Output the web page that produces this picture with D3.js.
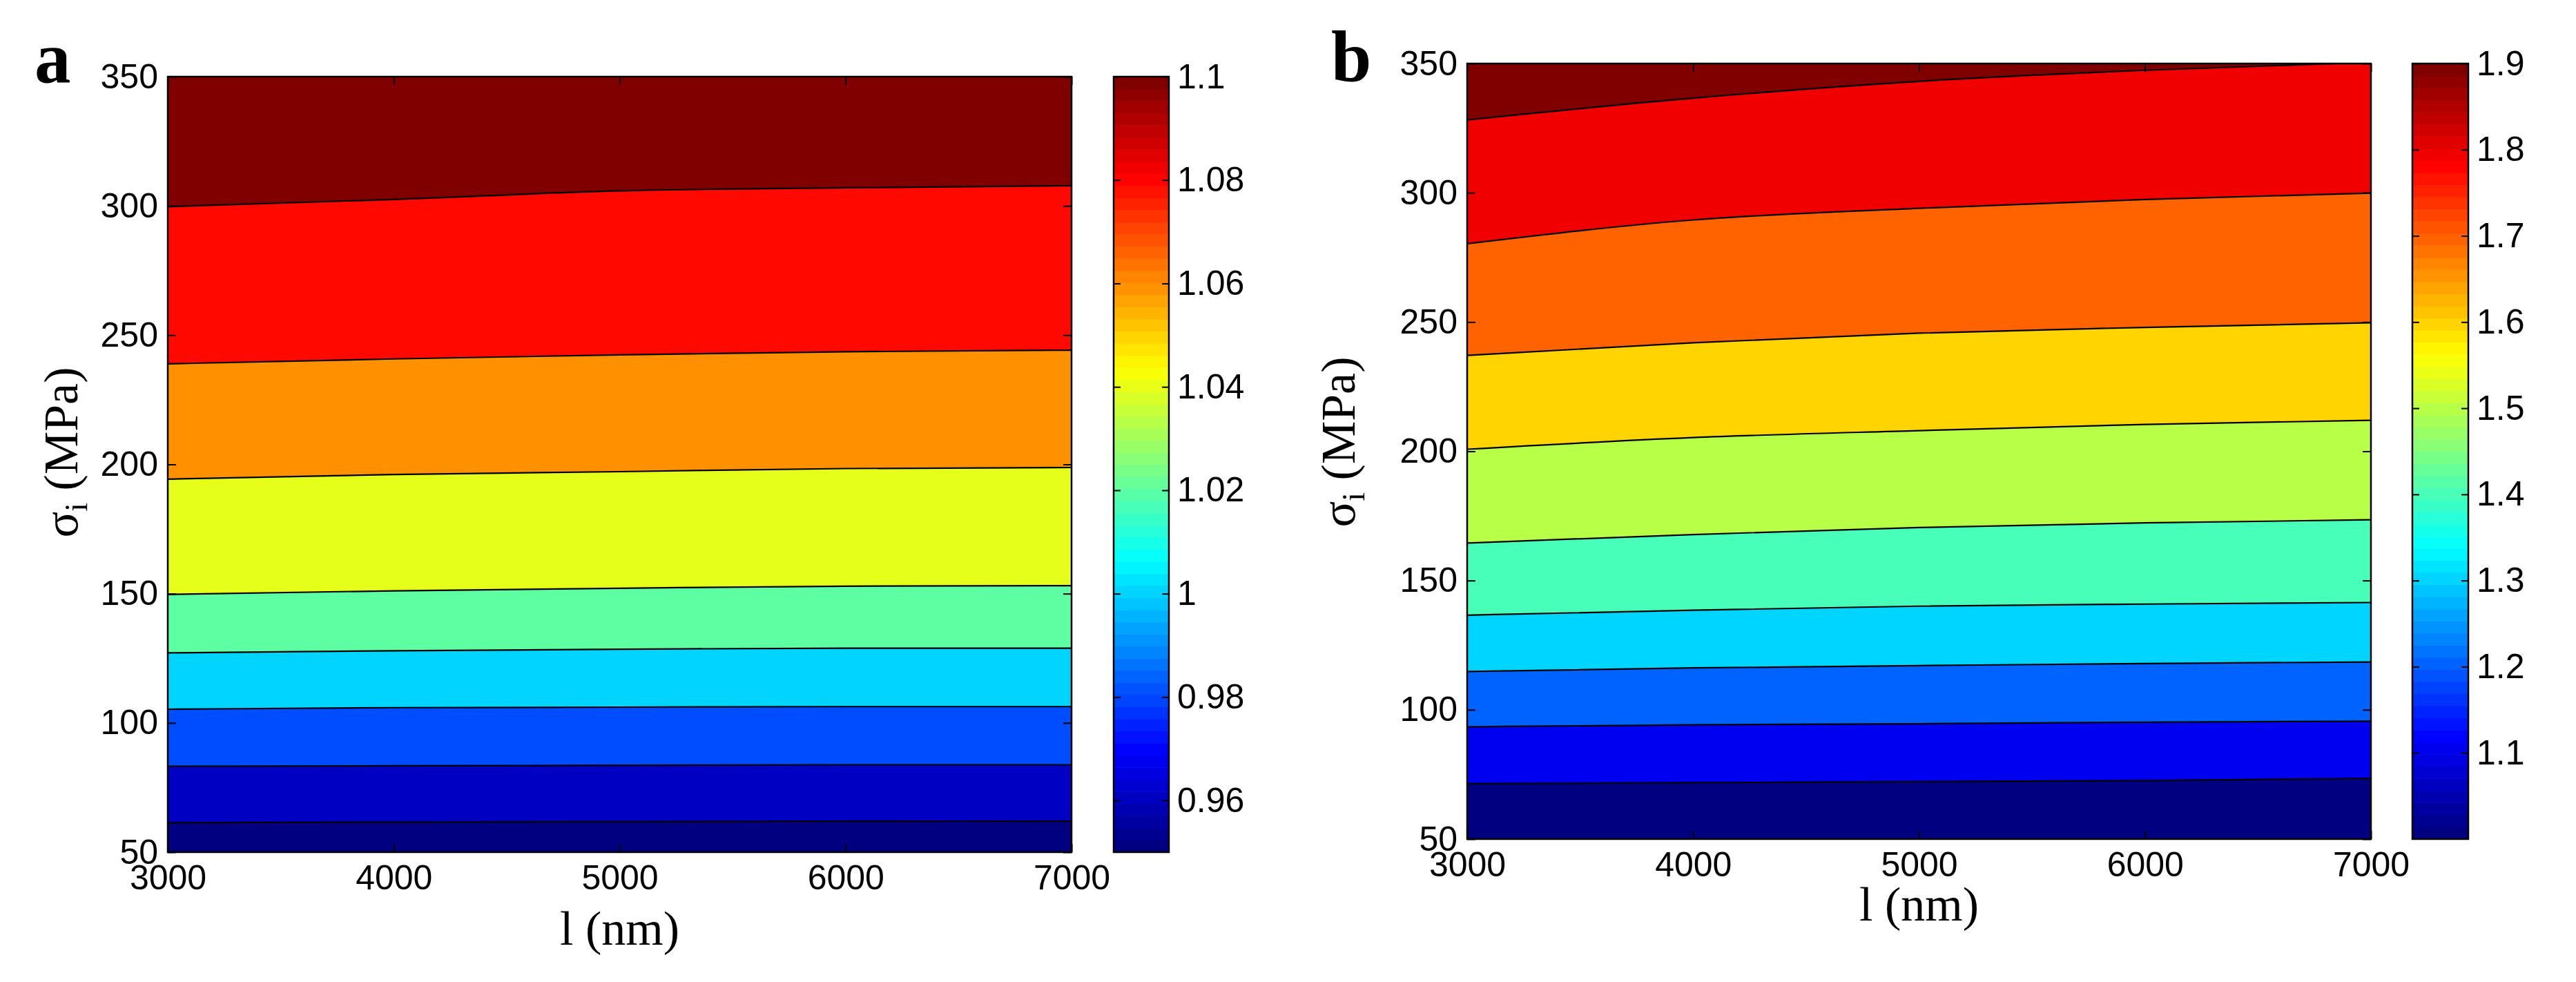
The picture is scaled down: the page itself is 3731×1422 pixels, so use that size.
<!DOCTYPE html>
<html lang="en">
<head>
<meta charset="utf-8">
<title>Contour maps</title>
<script src="https://cdnjs.cloudflare.com/ajax/libs/d3/7.8.5/d3.min.js"></script>
<style>
  body { margin: 0; background: #ffffff; }
  svg { display: block; }
  .tick text { font-family: "Liberation Sans", Arial, sans-serif; font-size: 50px; fill: #000; }
  .tick line { stroke: #000; stroke-width: 2; }
  .axis-label { font-family: "Liberation Serif", "Times New Roman", serif; font-size: 70px; fill: #000; }
  .panel-letter { font-family: "Liberation Serif", "Times New Roman", serif; font-weight: bold; font-size: 105px; fill: #000; }
</style>
</head>
<body>
<div id="chart"></div>
<script>
// x positions where the contour lines were read (nm)
const lengthNm = [3000, 4000, 5000, 6000, 7000];
const xTicks = [3000, 4000, 5000, 6000, 7000];
const yTicks = [50, 100, 150, 200, 250, 300, 350];

// panel a: contour levels and the stress (MPa) of each level line at lengthNm
const levelsA = [0.96, 0.98, 1.0, 1.02, 1.04, 1.06, 1.08, 1.1];
const linesA = [
  [61.4, 61.6, 61.8, 61.9, 62.0],
  [83.2, 83.4, 83.6, 83.8, 83.8],
  [105.3, 105.9, 106.1, 106.3, 106.3],
  [127.1, 127.9, 128.5, 128.9, 128.9],
  [149.7, 151.1, 152.1, 152.9, 153.1],
  [194.3, 196.1, 197.2, 198.4, 198.8],
  [238.9, 240.8, 242.4, 243.6, 244.2],
  [299.7, 302.5, 305.8, 307.0, 307.8]
];
const rangeA = [0.95, 1.1];
const cbTicksA = [0.96, 0.98, 1, 1.02, 1.04, 1.06, 1.08, 1.1];

// panel b
const levelsB = [1.1, 1.2, 1.3, 1.4, 1.5, 1.6, 1.7, 1.8, 1.9];
const linesB = [
  [71.4, 71.8, 72.2, 72.6, 73.5],
  [93.4, 94.2, 94.6, 95.2, 95.6],
  [114.8, 116.2, 117.1, 117.9, 118.5],
  [136.6, 138.5, 140.1, 140.9, 141.5],
  [164.5, 167.8, 170.5, 172.3, 173.5],
  [200.8, 205.3, 208.0, 210.4, 212.0],
  [237.1, 242.0, 245.7, 247.9, 249.7],
  [280.3, 289.5, 294.0, 297.4, 299.9],
  [328.2, 336.6, 343.1, 347.4, 350.5]
];
const rangeB = [1.0, 1.9];
const cbTicksB = [1.1, 1.2, 1.3, 1.4, 1.5, 1.6, 1.7, 1.8, 1.9];

const W = 3731, H = 1422;

// matlab jet colormap
function jet(t) {
  t = Math.max(0, Math.min(1, t));
  const c = v => Math.round(255 * Math.max(0, Math.min(1, v)));
  return d3.rgb(c(1.5 - Math.abs(4 * t - 3)), c(1.5 - Math.abs(4 * t - 2)), c(1.5 - Math.abs(4 * t - 1))).formatHex();
}

const svg = d3.select("#chart").append("svg")
  .attr("width", W).attr("height", H);

function drawPanel(p) {
  const g = svg.append("g");
  const x = d3.scaleLinear().domain([3000, 7000]).range([p.left, p.right]);
  const y = d3.scaleLinear().domain([50, 350]).range([p.bottom, p.top]);
  const c = d3.scaleLinear().domain(p.range).range([0, 1]);

  const clipId = "clip-" + p.name;
  svg.append("clipPath").attr("id", clipId)
    .append("rect")
    .attr("x", p.left).attr("y", p.top)
    .attr("width", p.right - p.left).attr("height", p.bottom - p.top);

  const plot = g.append("g").attr("clip-path", "url(#" + clipId + ")");

  // lowest band
  plot.append("rect")
    .attr("x", p.left).attr("y", p.top)
    .attr("width", p.right - p.left).attr("height", p.bottom - p.top)
    .attr("fill", jet(c(p.range[0])));

  const area = d3.area()
    .x((d, i) => x(lengthNm[i]))
    .y0(y(360))
    .y1(d => y(d))
    .curve(d3.curveMonotoneX);
  const line = d3.line()
    .x((d, i) => x(lengthNm[i]))
    .y(d => y(d))
    .curve(d3.curveMonotoneX);

  plot.selectAll("path.band")
    .data(p.lines)
    .enter().append("path")
    .attr("class", "band")
    .attr("d", area)
    .attr("fill", (d, i) => jet(c(p.levels[i])));

  plot.selectAll("path.level")
    .data(p.lines)
    .enter().append("path")
    .attr("class", "level")
    .attr("d", line)
    .attr("fill", "none")
    .attr("stroke", "#000")
    .attr("stroke-width", 2.2);

  // axes, ticks pointing inward
  g.append("g").attr("transform", "translate(0," + p.bottom + ")")
    .call(d3.axisBottom(x).tickValues(xTicks).tickFormat(d3.format("d")).tickSizeInner(-12).tickSizeOuter(0).tickPadding(18));
  g.append("g").attr("transform", "translate(0," + p.top + ")")
    .call(d3.axisTop(x).tickValues(xTicks).tickFormat("").tickSizeInner(-12).tickSizeOuter(0));
  g.append("g").attr("transform", "translate(" + p.left + ",0)")
    .call(d3.axisLeft(y).tickValues(yTicks).tickFormat(d3.format("d")).tickSizeInner(-12).tickSizeOuter(0).tickPadding(14));
  g.append("g").attr("transform", "translate(" + p.right + ",0)")
    .call(d3.axisRight(y).tickValues(yTicks).tickFormat("").tickSizeInner(-12).tickSizeOuter(0));
  g.selectAll(".domain").remove();

  g.append("rect")
    .attr("x", p.left).attr("y", p.top)
    .attr("width", p.right - p.left).attr("height", p.bottom - p.top)
    .attr("fill", "none").attr("stroke", "#000").attr("stroke-width", 2.5);

  // colorbar
  const cb = d3.scaleLinear().domain(p.range).range([p.bottom, p.top]);
  const steps = d3.range(64);
  const stepH = (p.bottom - p.top) / 64;
  g.selectAll("rect.cb")
    .data(steps)
    .enter().append("rect")
    .attr("class", "cb")
    .attr("x", p.cbLeft)
    .attr("y", d => p.bottom - (d + 1) * stepH)
    .attr("width", p.cbRight - p.cbLeft)
    .attr("height", stepH + 0.6)
    .attr("fill", d => jet(d / 63));

  g.append("g").attr("transform", "translate(" + p.cbRight + ",0)")
    .call(d3.axisRight(cb).tickValues(p.cbTicks).tickFormat(d => String(d)).tickSizeInner(-10).tickSizeOuter(0).tickPadding(12));
  g.append("g").attr("transform", "translate(" + p.cbLeft + ",0)")
    .call(d3.axisLeft(cb).tickValues(p.cbTicks).tickFormat("").tickSizeInner(-10).tickSizeOuter(0));
  g.selectAll(".domain").remove();

  g.append("rect")
    .attr("x", p.cbLeft).attr("y", p.top)
    .attr("width", p.cbRight - p.cbLeft).attr("height", p.bottom - p.top)
    .attr("fill", "none").attr("stroke", "#000").attr("stroke-width", 2.5);

  // labels
  g.append("text").attr("class", "axis-label")
    .attr("x", (p.left + p.right) / 2).attr("y", p.xLabelY)
    .attr("text-anchor", "middle")
    .text("l (nm)");

  const yl = g.append("text").attr("class", "axis-label")
    .attr("transform", "translate(" + p.yLabelX + "," + p.yLabelY + ") rotate(-90)")
    .attr("text-anchor", "middle");
  yl.append("tspan").text("σ");
  yl.append("tspan").attr("dy", 14).attr("font-size", 46).text("i");
  yl.append("tspan").attr("dy", -14).text(" (MPa)");

  g.append("text").attr("class", "panel-letter")
    .attr("x", p.letterX).attr("y", p.letterY)
    .text(p.name);
}

drawPanel({
  name: "a", left: 243, right: 1552, top: 111, bottom: 1234,
  cbLeft: 1613, cbRight: 1693,
  levels: levelsA, lines: linesA, range: rangeA, cbTicks: cbTicksA,
  xLabelY: 1368, yLabelX: 112, yLabelY: 655, letterX: 50, letterY: 119
});

drawPanel({
  name: "b", left: 2125, right: 3434, top: 92, bottom: 1215,
  cbLeft: 3494, cbRight: 3575,
  levels: levelsB, lines: linesB, range: rangeB, cbTicks: cbTicksB,
  xLabelY: 1333, yLabelX: 1962, yLabelY: 640, letterX: 1928, letterY: 118
});
</script>
</body>
</html>
